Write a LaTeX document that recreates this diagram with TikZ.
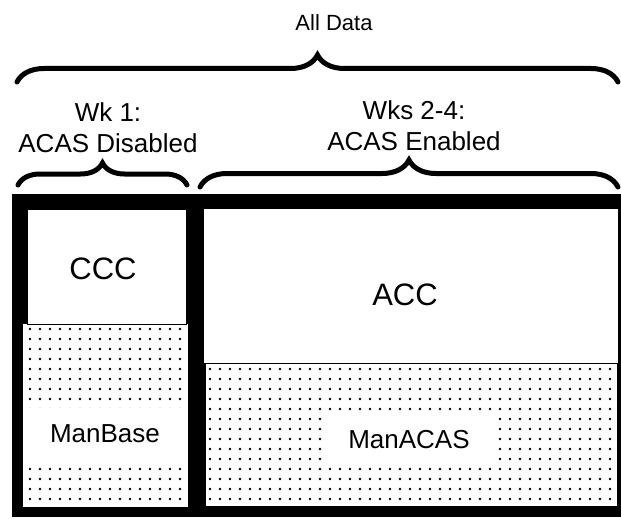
\documentclass[tikz,border=0pt]{standalone}
\usepackage{fontspec}
\setmainfont{Liberation Sans}
\usetikzlibrary{decorations.pathreplacing,patterns.meta}

\begin{document}
\begin{tikzpicture}[x=1pt,y=-1pt,
  brace/.style={decorate,decoration={brace,amplitude=#1},line width=5pt,line cap=round},
  white cell/.style={fill=white,draw=black,line width=0.8pt},
  dot cell/.style={preaction={fill=white},pattern={Dots[distance=10pt,radius=1.3pt]},pattern color=black},
  head/.style={align=center,font=\fontsize{26}{31}\selectfont,inner sep=0pt},
  big/.style={font=\fontsize{31}{36}\selectfont,inner sep=0pt},
  small/.style={font=\fontsize{26}{31}\selectfont,inner sep=0pt}]

\useasboundingbox (0,0) rectangle (621,519);

% frame
\fill[black] (12,194) rectangle (621,517);

% cells
\path[dot cell] (23,324) rectangle (188,507);
\path[white cell] (27,209) rectangle (186,324);
\path[dot cell] (206,363) rectangle (617,506);
\path[white cell] (203,208) rectangle (618,363);

% labels
\node (ccc) at (103,269) [big] {CCC};
\node (acc) at (405,295) [big] {ACC};
\node (manbase) at (105,434) [small,fill=white,minimum width=160pt,minimum height=53pt] {ManBase};
\node (manacas) at (409,440) [small,fill=white,minimum width=172pt,minimum height=50pt] {ManACAS};

\node (wk1) at (108,128) [head] {Wk 1:\\ACAS Disabled};
\node (wks) at (414,126) [head] {Wks 2-4:\\ACAS Enabled};
\node (all) at (334,23) [font=\fontsize{22}{26}\selectfont,inner sep=0pt] {All Data};

% braces
\coordinate (all1) at (17,82);
\coordinate (all2) at (618,82);
\coordinate (wk1a) at (18,185);
\coordinate (wk1b) at (187,185);
\coordinate (wksa) at (200,187);
\coordinate (wksb) at (618,187);

\draw [brace=27pt] (all1) -- (all2);
\draw [brace=22pt] (wk1a) -- (wk1b);
\draw [brace=27pt] (wksa) -- (wksb);

\end{tikzpicture}
\end{document}
